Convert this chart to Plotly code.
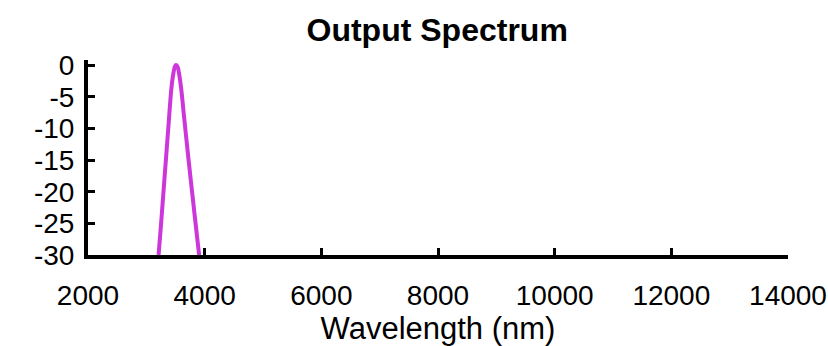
import plotly.graph_objects as go

# Output spectrum samples (wavelength in nm, relative power in dB)
wavelength_nm = [3210, 3245, 3290, 3335, 3376, 3426, 3460, 3490, 3510,
                 3540, 3597, 3645, 3724, 3802, 3862, 3905]
power_db = [-30, -26, -20.5, -15, -10, -4, -1.5, -0.2, 0,
            -0.4, -3.7, -8, -15, -21.5, -26.5, -30]

x_ticks = [2000, 4000, 6000, 8000, 10000, 12000, 14000]
y_ticks = [0, -5, -10, -15, -20, -25, -30]

FONT = "Liberation Sans, Arial, sans-serif"

fig = go.Figure(
    go.Scatter(
        x=wavelength_nm,
        y=power_db,
        mode="lines",
        line=dict(color="#CC36DA", width=4, shape="spline", smoothing=0.6),
        hoverinfo="skip",
    )
)

axis_common = dict(
    showgrid=False,
    zeroline=False,
    showline=True,
    linecolor="black",
    linewidth=4,
    ticks="inside",
    ticklen=7,
    tickwidth=3,
    tickcolor="black",
    tickfont=dict(family=FONT, size=28, color="black"),
)

fig.update_layout(
    width=828,
    height=346,
    margin=dict(l=88, r=40, t=60, b=91, autoexpand=False),
    paper_bgcolor="white",
    plot_bgcolor="white",
    showlegend=False,
    title=dict(
        text="<b>Output Spectrum</b>",
        x=0.528,
        xanchor="center",
        y=0.915,
        yanchor="middle",
        font=dict(family=FONT, size=32, color="black"),
    ),
    xaxis=dict(
        range=[2000, 14000],
        tickvals=x_ticks,
        ticktext=[str(v) for v in x_ticks],
        title=dict(text="Wavelength (nm)", standoff=0,
                   font=dict(family=FONT, size=31, color="black")),
        ticklabelstandoff=12,
        **axis_common,
    ),
    yaxis=dict(
        range=[-30, 0.8],
        tickvals=y_ticks,
        ticktext=[str(v) for v in y_ticks],
        ticklabelstandoff=4,
        **axis_common,
    ),
)

fig.write_html("out.html")
